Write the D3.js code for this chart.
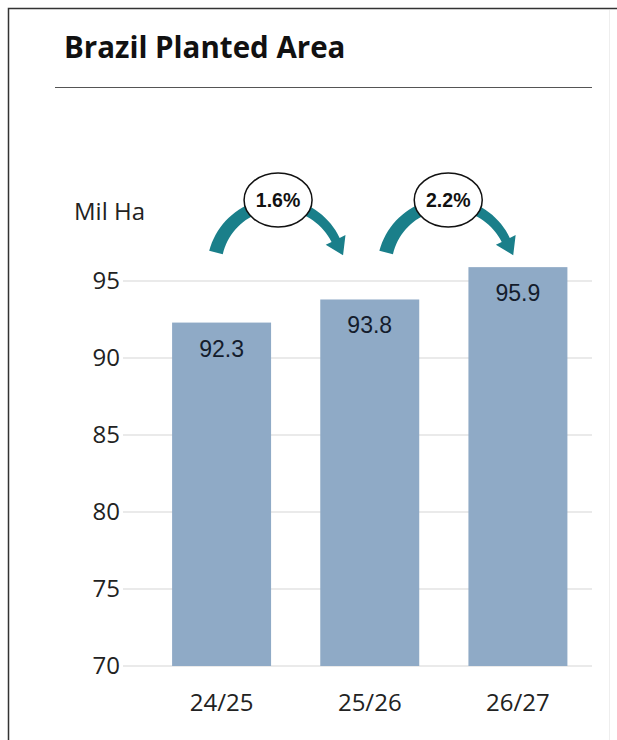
<!DOCTYPE html>
<html>
<head>
<meta charset="utf-8">
<script src="https://cdn.jsdelivr.net/npm/d3@7"></script>
<style>
  body { margin: 0; background: #fff; }
  svg { display: block; }
</style>
</head>
<body>
<div id="chart"></div>
<script>
// data
let seasons = ["24/25", "25/26", "26/27"];
let area = [92.3, 93.8, 95.9];
let yTicks = [70, 75, 80, 85, 90, 95];
let changes = ["1.6%", "2.2%"];

let w = 617, h = 740;

let svg = d3.select("#chart")
    .append("svg")
    .attr("width", w)
    .attr("height", h);

// frame
svg.append("path")
    .attr("d", "M8.5,740 L8.5,8.5 L617,8.5")
    .attr("fill", "none")
    .attr("stroke", "#333")
    .attr("stroke-width", 1.5);

svg.append("line")
    .attr("x1", 609.5).attr("x2", 609.5)
    .attr("y1", 10).attr("y2", 740)
    .attr("stroke", "#eee");

svg.append("text")
    .attr("x", 64)
    .attr("y", 58)
    .attr("font-family", "Open Sans")
    .attr("font-weight", "bold")
    .attr("font-size", 29.5)
    .attr("fill", "#111")
    .text("Brazil Planted Area");

svg.append("line")
    .attr("x1", 55).attr("x2", 592)
    .attr("y1", 87.5).attr("y2", 87.5)
    .attr("stroke", "#555")
    .attr("stroke-width", 1.2);

let xScale = d3.scaleBand()
    .domain(seasons)
    .range([147.5, 592])
    .paddingInner(0.332)
    .paddingOuter(0.166);

let yScale = d3.scaleLinear()
    .domain([70, 95])
    .range([666, 281]);

// grid
svg.append("g")
    .selectAll("line")
    .data(yTicks)
    .enter()
    .append("line")
    .attr("x1", 123)
    .attr("x2", 592)
    .attr("y1", d => yScale(d))
    .attr("y2", d => yScale(d))
    .attr("stroke", "#e3e3e3")
    .attr("stroke-width", 1.5);

let yaxis = svg.append("g")
    .attr("transform", "translate(120,0)")
    .call(d3.axisLeft(yScale).tickValues(yTicks).tickSize(0).tickPadding(0));
yaxis.select(".domain").remove();
yaxis.selectAll("text")
    .attr("font-family", "Open Sans")
    .attr("font-size", 24)
    .attr("fill", "#222");

svg.append("text")
    .attr("x", 74)
    .attr("y", 220)
    .attr("font-family", "Open Sans")
    .attr("font-size", 24)
    .attr("fill", "#222")
    .text("Mil Ha");

// bars
svg.selectAll("rect.bar")
    .data(area)
    .enter()
    .append("rect")
    .attr("class", "bar")
    .attr("x", (d, i) => xScale(seasons[i]))
    .attr("y", d => yScale(d))
    .attr("width", xScale.bandwidth())
    .attr("height", d => yScale(70) - yScale(d))
    .attr("fill", "#8faac6");

svg.selectAll("text.val")
    .data(area)
    .enter()
    .append("text")
    .attr("class", "val")
    .attr("x", (d, i) => xScale(seasons[i]) + xScale.bandwidth() / 2)
    .attr("y", d => yScale(d) + 34)
    .attr("text-anchor", "middle")
    .attr("font-family", "Liberation Sans")
    .attr("font-size", 23)
    .attr("fill", "#141c2c")
    .text(d => d.toFixed(1));

let xaxis = svg.append("g")
    .attr("transform", "translate(0," + yScale(70) + ")")
    .call(d3.axisBottom(xScale).tickSize(0).tickPadding(0));
xaxis.select(".domain").remove();
xaxis.selectAll("text")
    .attr("dy", 45)
    .attr("font-family", "Open Sans")
    .attr("font-size", 24)
    .attr("fill", "#222");

// growth arrows between seasons
let arrowShift = [7, 29];  // circle centre past the right edge of the left bar
let arc = { cy: 68, r: 64, a0: 194, a1: 334 };

changes.forEach((c, i) => {
    let cx = xScale(seasons[i]) + xScale.bandwidth() + arrowShift[i];
    let cy = 200;
    let g = svg.append("g").attr("transform", "translate(" + cx + "," + cy + ")");

    let n = 40;
    let outer = [], inner = [];
    for (let k = 0; k <= n; k++) {
        let t = k / n;
        let a = (arc.a0 + t * (arc.a1 - arc.a0)) * Math.PI / 180;
        let hw = 7 - 2.5 * t;
        outer.push([(arc.r + hw) * Math.cos(a), arc.cy + (arc.r + hw) * Math.sin(a)]);
        inner.push([(arc.r - hw) * Math.cos(a), arc.cy + (arc.r - hw) * Math.sin(a)]);
    }
    let a1 = arc.a1 * Math.PI / 180;
    let tx = -Math.sin(a1), ty = Math.cos(a1);
    let bx = arc.r * Math.cos(a1), by = arc.cy + arc.r * Math.sin(a1);
    let head = [
        [(arc.r + 11) * Math.cos(a1), arc.cy + (arc.r + 11) * Math.sin(a1)],
        [bx + tx * 17, by + ty * 17],
        [(arc.r - 11) * Math.cos(a1), arc.cy + (arc.r - 11) * Math.sin(a1)]
    ];
    let pts = outer.concat([head[0], head[1], head[2]], inner.reverse());

    g.append("path")
        .attr("d", d3.line()(pts) + "Z")
        .attr("fill", "#1a7f8a");

    g.append("ellipse")
        .attr("rx", 34)
        .attr("ry", 27)
        .attr("fill", "#fff")
        .attr("stroke", "#111")
        .attr("stroke-width", 1.5);

    g.append("text")
        .attr("y", 7)
        .attr("text-anchor", "middle")
        .attr("font-family", "Liberation Sans")
        .attr("font-weight", "bold")
        .attr("font-size", 19.5)
        .attr("fill", "#111")
        .text(c);
});
</script>
</body>
</html>
